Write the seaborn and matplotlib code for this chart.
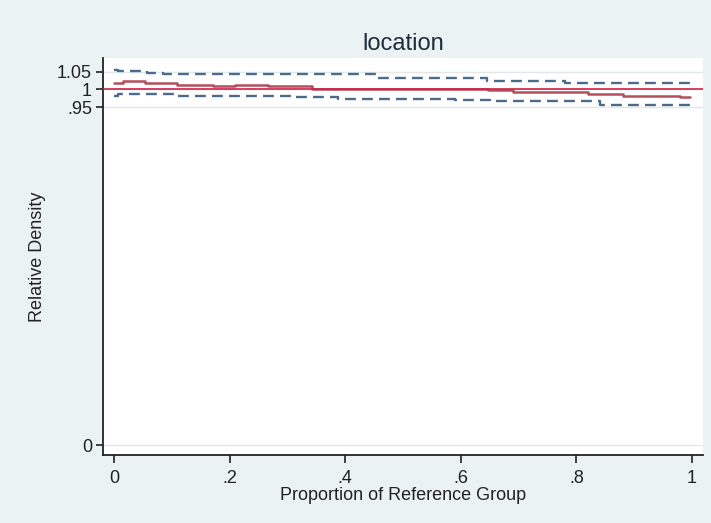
import matplotlib
matplotlib.use("Agg")
import matplotlib.pyplot as plt
import seaborn as sns
import pandas as pd

# relative density estimate (step function)
est_x = [0.0, 0.016, 0.054, 0.109, 0.171, 0.209, 0.266, 0.343, 0.478, 0.498,
         0.542, 0.561, 0.647, 0.690, 0.820, 0.881, 0.979, 0.997]
est_y = [1.017, 1.022, 1.017, 1.012, 1.008, 1.013, 1.008, 1.000, 1.002, 1.000,
         1.002, 1.000, 0.998, 0.993, 0.988, 0.982, 0.977, 0.977]

# upper / lower confidence bands
up_x = [0.0, 0.007, 0.057, 0.085, 0.457, 0.645, 0.780, 0.997]
up_y = [1.055, 1.051, 1.047, 1.042, 1.031, 1.023, 1.018, 1.015]
lo_x = [0.0, 0.007, 0.111, 0.304, 0.388, 0.590, 0.651, 0.841, 0.997]
lo_y = [0.980, 0.986, 0.982, 0.977, 0.974, 0.971, 0.966, 0.956, 0.948]

x_ticks = [0, 0.2, 0.4, 0.6, 0.8, 1]
x_labels = ["0", ".2", ".4", ".6", ".8", "1"]
y_ticks = [0, 0.95, 1, 1.05]
y_labels = ["0", ".95", "1", "1.05"]

sns.set_style("white")
plt.rcParams["font.family"] = ["Liberation Sans", "DejaVu Sans"]

bg = "#eaf2f3"
fig = plt.figure(figsize=(7.11, 5.23), dpi=100, facecolor=bg)
ax = fig.add_axes([103 / 711, 1 - 455 / 523, 600 / 711, 397 / 523])
ax.set_facecolor("white")

ax.yaxis.grid(True, color="#dfe8ea", linewidth=1.0)
ax.set_axisbelow(True)

est = pd.DataFrame({"x": est_x, "y": est_y})
up = pd.DataFrame({"x": up_x, "y": up_y})
lo = pd.DataFrame({"x": lo_x, "y": lo_y})

dash = (0, (4.6, 2.6))
sns.lineplot(data=up, x="x", y="y", ax=ax, estimator=None, sort=False,
             drawstyle="steps-post", color="#4a6b8b", linewidth=1.7, linestyle=dash)
sns.lineplot(data=lo, x="x", y="y", ax=ax, estimator=None, sort=False,
             drawstyle="steps-post", color="#4a6b8b", linewidth=1.7, linestyle=dash)
sns.lineplot(data=est, x="x", y="y", ax=ax, estimator=None, sort=False,
             drawstyle="steps-post", color="#b24f5c", linewidth=1.8)
ax.axhline(1, color="#d21f46", linewidth=1.2, zorder=5)

ax.set_xlim(-0.019, 1.019)
ax.set_ylim(-0.028, 1.088)
ax.set_xticks(x_ticks)
ax.set_xticklabels(x_labels)
ax.set_yticks(y_ticks)
ax.set_yticklabels(y_labels)
ax.tick_params(axis="x", bottom=True, direction="out", length=6, width=1.2,
               pad=5, labelsize=13, colors="#222222")
ax.tick_params(axis="y", left=True, direction="out", length=5, width=1.2,
               pad=3, labelsize=13, colors="#222222")

for side in ["top", "right"]:
    ax.spines[side].set_visible(False)
for side in ["left", "bottom"]:
    ax.spines[side].set_color("#222222")
    ax.spines[side].set_linewidth(1.3)

ax.set_xlabel("Proportion of Reference Group", fontsize=13, labelpad=0, color="#222222")
ax.set_ylabel("Relative Density", fontsize=13, labelpad=8, color="#222222")
ax.set_title("location", fontsize=17, pad=6, color="#1e2d3c")

fig.savefig("out.png", dpi=100, facecolor=bg)
